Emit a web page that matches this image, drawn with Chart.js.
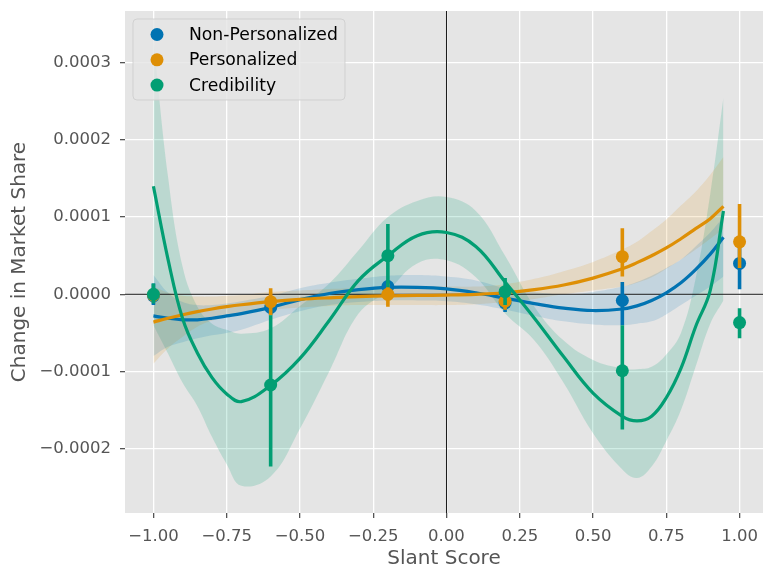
<!DOCTYPE html>
<html>
<head>
<meta charset="utf-8">
<script src="https://cdn.jsdelivr.net/npm/chart.js@4.4.1/dist/chart.umd.min.js"></script>
<style>
  html, body { margin: 0; padding: 0; background: #fff; }
  #wrap { width: 764px; height: 569px; }
</style>
</head>
<body>
<div id="wrap"><canvas id="slantChart" width="764" height="569"></canvas></div>
<script>
// Series and tick values
const seriesNames = ['Non-Personalized', 'Personalized', 'Credibility'];
const seriesColors = ['#0173b2', '#de8f05', '#029e73'];
const bandColors = ['rgba(1, 115, 178, 0.15)', 'rgba(222, 143, 5, 0.15)', 'rgba(2, 158, 115, 0.18)'];

const xTickValues = [-1, -0.75, -0.5, -0.25, 0, 0.25, 0.5, 0.75, 1];
const yTickValues = [-0.0002, -0.0001, 0, 0.0001, 0.0002, 0.0003];

// binned points (mean + CI)
const slantScores = [-1, -0.6, -0.2, 0.2, 0.6, 1];
const nonPersMean = [-0.02e-4, -0.17e-4, 0.10e-4, -0.11e-4, -0.08e-4, 0.40e-4];
const nonPersLow  = [-0.14e-4, -0.27e-4, 0.02e-4, -0.23e-4, -0.40e-4, 0.065e-4];
const nonPersHigh = [0.14e-4, -0.07e-4, 0.18e-4, 0.01e-4, 0.16e-4, 0.72e-4];
const persMean = [-0.01e-4, -0.095e-4, 0.0, -0.09e-4, 0.487e-4, 0.68e-4];
const persLow  = [-0.10e-4, -0.27e-4, -0.16e-4, -0.20e-4, 0.23e-4, 0.34e-4];
const persHigh = [0.08e-4, 0.08e-4, 0.14e-4, 0.02e-4, 0.855e-4, 1.17e-4];
const credMean = [0.0, -1.175e-4, 0.50e-4, 0.034e-4, -0.99e-4, -0.366e-4];
const credLow  = [-0.12e-4, -2.23e-4, 0.09e-4, -0.14e-4, -1.75e-4, -0.57e-4];
const credHigh = [0.14e-4, -0.27e-4, 0.91e-4, 0.21e-4, -0.40e-4, -0.18e-4];

// fitted curves + confidence bands
const fitX = [-1, -0.95, -0.9, -0.85, -0.8, -0.75, -0.7, -0.6, -0.5, -0.4, -0.3, -0.2, -0.1, 0,
  0.1, 0.2, 0.3, 0.4, 0.5, 0.6, 0.65, 0.7, 0.75, 0.8, 0.85, 0.9, 0.945];
const nonPersFit = [-0.28e-4, -0.31e-4, -0.33e-4, -0.33e-4, -0.31e-4, -0.28e-4, -0.25e-4, -0.17e-4, -0.07e-4, 0.01e-4, 0.06e-4, 0.09e-4, 0.09e-4, 0.07e-4,
  0.02e-4, -0.05e-4, -0.12e-4, -0.18e-4, -0.21e-4, -0.19e-4, -0.15e-4, -0.08e-4, 0.02e-4, 0.15e-4, 0.32e-4, 0.52e-4, 0.74e-4];
const nonPersFitLow = [-0.80e-4, -0.68e-4, -0.62e-4, -0.57e-4, -0.53e-4, -0.50e-4, -0.46e-4, -0.33e-4, -0.22e-4, -0.14e-4, -0.10e-4, -0.08e-4, -0.08e-4, -0.09e-4,
  -0.13e-4, -0.20e-4, -0.28e-4, -0.35e-4, -0.39e-4, -0.40e-4, -0.38e-4, -0.35e-4, -0.26e-4, -0.14e-4, -0.02e-4, 0.10e-4, 0.23e-4];
const nonPersFitHigh = [0.25e-4, 0.02e-4, -0.10e-4, -0.14e-4, -0.14e-4, -0.12e-4, -0.09e-4, -0.02e-4, 0.08e-4, 0.15e-4, 0.20e-4, 0.24e-4, 0.25e-4, 0.23e-4,
  0.18e-4, 0.08e-4, 0.03e-4, 0.00, 0.03e-4, 0.10e-4, 0.16e-4, 0.24e-4, 0.34e-4, 0.45e-4, 0.62e-4, 0.80e-4, 1.00e-4];
const persFit = [-0.36e-4, -0.31e-4, -0.265e-4, -0.225e-4, -0.19e-4, -0.16e-4, -0.135e-4, -0.095e-4, -0.065e-4, -0.045e-4, -0.03e-4, -0.02e-4, -0.015e-4, -0.01e-4,
  0.00, 0.02e-4, 0.06e-4, 0.12e-4, 0.21e-4, 0.33e-4, 0.41e-4, 0.50e-4, 0.60e-4, 0.72e-4, 0.85e-4, 0.98e-4, 1.14e-4];
const persFitLow = [-0.90e-4, -0.70e-4, -0.55e-4, -0.42e-4, -0.34e-4, -0.28e-4, -0.24e-4, -0.20e-4, -0.17e-4, -0.15e-4, -0.14e-4, -0.14e-4, -0.14e-4, -0.14e-4,
  -0.13e-4, -0.10e-4, -0.06e-4, 0.00, 0.05e-4, 0.10e-4, 0.15e-4, 0.22e-4, 0.33e-4, 0.45e-4, 0.58e-4, 0.72e-4, 0.85e-4];
const persFitHigh = [0.10e-4, 0.02e-4, -0.02e-4, -0.03e-4, -0.03e-4, -0.02e-4, -0.01e-4, 0.03e-4, 0.05e-4, 0.07e-4, 0.08e-4, 0.09e-4, 0.10e-4, 0.10e-4,
  0.10e-4, 0.13e-4, 0.20e-4, 0.30e-4, 0.42e-4, 0.58e-4, 0.68e-4, 0.82e-4, 0.97e-4, 1.15e-4, 1.33e-4, 1.55e-4, 1.78e-4];
const credFit = [1.40e-4, 0.45e-4, -0.32e-4, -0.76e-4, -1.08e-4, -1.29e-4, -1.39e-4, -1.18e-4, -0.83e-4, -0.34e-4, 0.18e-4, 0.50e-4, 0.76e-4, 0.80e-4,
  0.62e-4, 0.16e-4, -0.31e-4, -0.81e-4, -1.28e-4, -1.58e-4, -1.64e-4, -1.58e-4, -1.34e-4, -0.96e-4, -0.42e-4, 0.05e-4, 1.08e-4];
const credFitLow = [-0.40e-4, -0.77e-4, -1.15e-4, -1.45e-4, -1.85e-4, -2.20e-4, -2.48e-4, -2.36e-4, -1.74e-4, -1.00e-4, -0.25e-4, 0.05e-4, 0.40e-4, 0.44e-4,
  0.22e-4, -0.25e-4, -0.60e-4, -1.15e-4, -1.80e-4, -2.27e-4, -2.38e-4, -2.23e-4, -1.90e-4, -1.50e-4, -0.94e-4, -0.38e-4, -0.08e-4];
const credFitHigh = [3.30e-4, 1.52e-4, 0.35e-4, -0.16e-4, -0.38e-4, -0.46e-4, -0.51e-4, -0.44e-4, -0.15e-4, 0.14e-4, 0.57e-4, 1.00e-4, 1.21e-4, 1.26e-4,
  1.08e-4, 0.50e-4, -0.16e-4, -0.60e-4, -0.85e-4, -0.96e-4, -0.97e-4, -0.94e-4, -0.78e-4, -0.50e-4, 0.20e-4, 1.30e-4, 2.55e-4];

const FONT = "'DejaVu Sans', sans-serif";
const TXT = '#555555';

const toXY = (xs, ys) => xs.map((x, i) => ({ x: x, y: ys[i] }));
const errSegments = (xs, lo, hi) => {
  const out = [];
  xs.forEach((x, i) => { out.push({ x: x, y: lo[i] }, { x: x, y: hi[i] }, { x: x, y: null }); });
  return out;
};
const fmt = (v, d) => {
  const s = Math.abs(v) < 1e-12 ? (0).toFixed(d) : v.toFixed(d);
  return s.replace('-', '\u2212');
};

const fits = [
  [nonPersFit, nonPersFitLow, nonPersFitHigh],
  [persFit, persFitLow, persFitHigh],
  [credFit, credFitLow, credFitHigh],
];
const pts = [
  [nonPersMean, nonPersLow, nonPersHigh],
  [persMean, persLow, persHigh],
  [credMean, credLow, credHigh],
];

const datasets = [];
// confidence bands (lower edge invisible, upper edge fills down to it)
fits.forEach((f, s) => {
  const lowIdx = datasets.length;
  datasets.push({
    data: toXY(fitX, f[1]), borderWidth: 0, pointRadius: 0, fill: false,
    tension: 0.4, order: 20,
  });
  datasets.push({
    data: toXY(fitX, f[2]), borderWidth: 0, pointRadius: 0,
    fill: { target: lowIdx }, backgroundColor: bandColors[s],
    tension: 0.4, order: 20,
  });
});
// reference lines at zero
datasets.push({
  data: [{ x: -3, y: 0 }, { x: 3, y: 0 }], borderColor: '#1a1a1a', borderWidth: 1,
  pointRadius: 0, fill: false, order: 15,
});
datasets.push({
  data: [{ x: 0, y: -1 }, { x: 0, y: 1 }], borderColor: '#1a1a1a', borderWidth: 1,
  pointRadius: 0, fill: false, order: 15,
});
// fitted curves
fits.forEach((f, s) => {
  datasets.push({
    data: toXY(fitX, f[0]), borderColor: seriesColors[s], borderWidth: 3.2,
    pointRadius: 0, fill: false, tension: 0.4, order: 12 - s,
  });
});
// error bars + points
pts.forEach((p, s) => {
  datasets.push({
    data: errSegments(slantScores, p[1], p[2]), borderColor: seriesColors[s], borderWidth: 3.6,
    pointRadius: 0, fill: false, spanGaps: false, order: 8 - 2 * s,
  });
  datasets.push({
    label: seriesNames[s],
    data: toXY(slantScores, p[0]), showLine: false, pointRadius: 6.5, pointHoverRadius: 6.5,
    pointBackgroundColor: seriesColors[s], pointBorderWidth: 0, fill: false, order: 7 - 2 * s,
  });
});

const panelBg = {
  id: 'panelBg',
  beforeDraw(chart) {
    const { ctx, chartArea: a } = chart;
    ctx.save();
    ctx.fillStyle = '#e5e5e5';
    ctx.fillRect(a.left, a.top, a.right - a.left, a.bottom - a.top);
    ctx.restore();
  }
};

const boxLegend = {
  id: 'boxLegend',
  afterDraw(chart) {
    const { ctx, chartArea: a } = chart;
    const x0 = a.left + 8, y0 = a.top + 8, w = 212, h = 81, r = 4;
    ctx.save();
    ctx.beginPath();
    ctx.roundRect(x0, y0, w, h, r);
    ctx.fillStyle = 'rgba(229, 229, 229, 0.8)';
    ctx.fill();
    ctx.strokeStyle = 'rgba(204, 204, 204, 0.8)';
    ctx.lineWidth = 1;
    ctx.stroke();
    ctx.font = '17.2px ' + FONT;
    ctx.textBaseline = 'middle';
    seriesNames.forEach((name, i) => {
      const y = y0 + 15.5 + i * 25.3;
      ctx.beginPath();
      ctx.arc(x0 + 24, y, 6.5, 0, Math.PI * 2);
      ctx.fillStyle = seriesColors[i];
      ctx.fill();
      ctx.fillStyle = '#000000';
      ctx.fillText(name, x0 + 56, y + 1);
    });
    ctx.restore();
  }
};

new Chart(document.getElementById('slantChart'), {
  type: 'line',
  data: { datasets: datasets },
  options: {
    responsive: false,
    devicePixelRatio: 1,
    animation: false,
    layout: { autoPadding: false, padding: { top: 11, right: 1, left: 0, bottom: 0 } },
    plugins: {
      legend: { display: false },
      tooltip: { enabled: false },
    },
    scales: {
      x: {
        type: 'linear',
        min: -1.097,
        max: 1.080,
        afterBuildTicks: (scale) => { scale.ticks = xTickValues.map(v => ({ value: v })); },
        afterFit: (scale) => { scale.height = 56; scale.paddingLeft = 0; scale.paddingRight = 0; },
        grid: { color: '#ffffff', lineWidth: 1.3, tickColor: TXT, tickLength: 5 },
        border: { display: false },
        ticks: {
          color: TXT, font: { family: FONT, size: 16.5 }, padding: 9,
          autoSkip: false, maxRotation: 0,
          callback: (v) => fmt(v, 2),
        },
        title: {
          display: true, text: 'Slant Score', color: TXT,
          font: { family: FONT, size: 20, lineHeight: 1.0 }, padding: { top: 0, bottom: 0 },
        },
      },
      y: {
        type: 'linear',
        min: -0.0002833,
        max: 0.000367,
        afterBuildTicks: (scale) => { scale.ticks = yTickValues.map(v => ({ value: v })); },
        afterFit: (scale) => { scale.width = 125; scale.paddingTop = 0; scale.paddingBottom = 0; },
        grid: { color: '#ffffff', lineWidth: 1.3, tickColor: TXT, tickLength: 5 },
        border: { display: false },
        ticks: {
          color: TXT, font: { family: FONT, size: 16.5 }, padding: 9,
          autoSkip: false,
          callback: (v) => fmt(v, 4),
        },
        title: {
          display: true, text: 'Change in Market Share', color: TXT,
          font: { family: FONT, size: 20 }, padding: { top: 8, bottom: 0 },
        },
      },
    },
  },
  plugins: [panelBg, boxLegend],
});
</script>
</body>
</html>
